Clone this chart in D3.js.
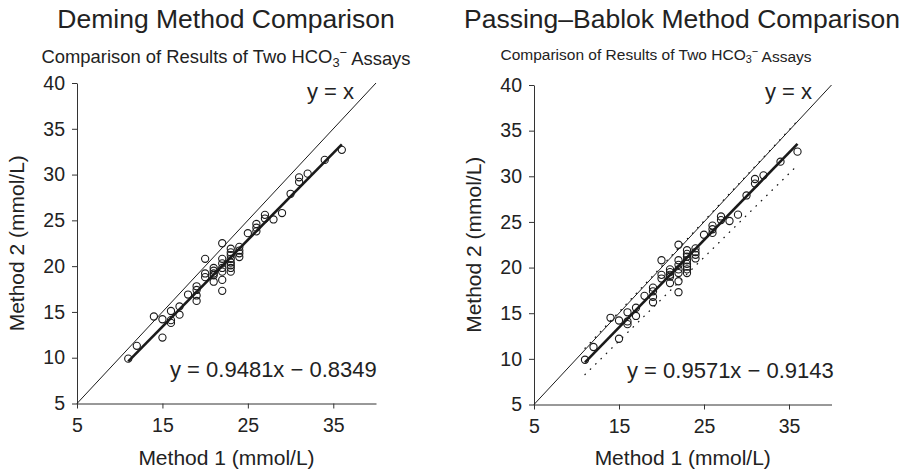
<!DOCTYPE html>
<html>
<head>
<meta charset="utf-8">
<script src="https://cdn.jsdelivr.net/npm/d3@7"></script>
<style>
  body { margin: 0; background: #fff; }
  svg text { font-family: "Liberation Sans", Arial, Helvetica, sans-serif; fill: #222; }
</style>
</head>
<body>
<svg id="chart" width="905" height="472"></svg>
<script>
"use strict";

// Method 1 / Method 2 results (mmol/L)
var method1 = [11, 12, 14, 15, 15, 16, 16, 16, 17, 17, 18, 19, 19, 19, 19,
  20, 20, 20, 21, 21, 21, 21, 21, 22, 22, 22, 22, 22, 22, 22,
  23, 23, 23, 23, 23, 23, 23, 23, 24, 24, 24, 24, 25, 26, 26, 26,
  27, 27, 28, 29, 30, 31, 31, 32, 34, 36];
var method2 = [9.9, 11.3, 14.5, 14.2, 12.2, 15.1, 14.1, 13.8, 15.6, 14.7, 16.9, 17.8, 17.4, 16.8, 16.2,
  20.8, 19.2, 18.8, 19.8, 19.5, 19.2, 18.3, 19.0, 22.5, 20.8, 20.3, 19.8, 19.4, 18.5, 17.3,
  21.9, 21.5, 21.2, 20.8, 20.4, 20.1, 19.8, 19.4, 22.1, 21.7, 21.4, 21.0, 23.6, 24.6, 24.2, 23.8,
  25.6, 25.2, 25.1, 25.8, 27.9, 29.7, 29.2, 30.1, 31.6, 32.7];

var xTicks = [5, 15, 25, 35];
var yTicks = [5, 10, 15, 20, 25, 30, 35, 40];
var axisDomain = [5, 40];

var titles = ["Deming Method Comparison", "Passing\u2013Bablok Method Comparison"];
var fits = [[0.9481, -0.8349], [0.9571, -0.9143]];   // slope, intercept
var pbLowerCI = [0.917, -1.8];
var pbUpperCI = [0.996, 0.2];

(function draw() {
  var svg = d3.select('#chart');
  var line = d3.line();

  var panels = [
    { x0: 77, x1: 376, y0: 403.5, y1: 83, titleX: 226, subX: 226, subSize: 18.4, subY: 63, yLabelX: 24, eqX: 170, eqY: 377, idX: 307 },
    { x0: 534, x1: 831.5, y0: 404.5, y1: 85, titleX: 682, subX: 656, subSize: 15.5, subY: 60, yLabelX: 481, eqX: 627, eqY: 378, idX: 765 }
  ];

  function fitLine(g, x, y, coef, width, dash) {
    var ext = d3.extent(method1);
    var path = g.append('path')
      .attr('d', line(ext.map(function(v) { return [x(v), y(coef[0] * v + coef[1])]; })))
      .attr('fill', 'none').attr('stroke', '#1a1a1a').attr('stroke-width', width);
    if (dash) path.attr('stroke-dasharray', dash).attr('stroke-linecap', 'round');
  }

  panels.map(function(p, i) {
    var x = d3.scaleLinear().domain(axisDomain).range([p.x0, p.x1]);
    var y = d3.scaleLinear().domain(axisDomain).range([p.y0, p.y1]);
    var g = svg.append('g');

    g.append('text').attr('x', p.titleX).attr('y', 28).attr('text-anchor', 'middle')
      .style('font-size', '26.5px').text(titles[i]);

    var sub = g.append('text').attr('x', p.subX).attr('y', p.subY).attr('text-anchor', 'middle')
      .style('font-size', p.subSize + 'px');
    sub.append('tspan').text('Comparison of Results of Two HCO');
    sub.append('tspan').attr('dy', '0.3em').style('font-size', '0.7em').text('3');
    sub.append('tspan').attr('dy', '-0.75em').style('font-size', '0.7em').text('\u2212');
    sub.append('tspan').attr('dy', '0.45em').text(' Assays');

    var xAxis = g.append('g').attr('transform', 'translate(0,' + p.y0 + ')')
      .call(d3.axisBottom(x).tickValues(xTicks).tickSizeInner(5).tickSizeOuter(0).tickPadding(10));
    var yAxis = g.append('g').attr('transform', 'translate(' + p.x0 + ',0)')
      .call(d3.axisLeft(y).tickValues(yTicks).tickSizeInner(5).tickSizeOuter(0).tickPadding(7));
    [xAxis, yAxis].map(function(a) {
      a.select('.domain').attr('stroke', '#333');
      a.selectAll('.tick line').attr('stroke', '#333');
      a.selectAll('.tick text').style('font-size', '19.5px').attr('fill', '#222')
        .style('font-family', '"Liberation Sans", Arial, sans-serif');
    });

    g.append('text').attr('x', (p.x0 + p.x1) / 2).attr('y', 465).attr('text-anchor', 'middle')
      .style('font-size', '21px').text('Method 1 (mmol/L)');
    g.append('text').attr('transform', 'translate(' + p.yLabelX + ',' + ((p.y0 + p.y1) / 2) + ') rotate(-90)')
      .attr('text-anchor', 'middle').style('font-size', '21px').text('Method 2 (mmol/L)');

    // identity line
    g.append('path')
      .attr('d', line(axisDomain.map(function(v) { return [x(v), y(v)]; })))
      .attr('fill', 'none').attr('stroke', '#1a1a1a').attr('stroke-width', 1);

    if (i === 1) {
      fitLine(g, x, y, pbUpperCI, 1.3, '0.5,7');
      fitLine(g, x, y, pbLowerCI, 1.3, '0.5,7');
    }

    g.selectAll('circle.pt').data(method1).enter().append('circle')
      .attr('class', 'pt')
      .attr('cx', function(d) { return x(d); })
      .attr('cy', function(d, j) { return y(method2[j]); })
      .attr('r', 3.6)
      .attr('fill', 'none').attr('stroke', '#1a1a1a').attr('stroke-width', 1.1);

    fitLine(g, x, y, fits[i], 2.6);

    g.append('text').attr('x', p.idX).attr('y', 99).style('font-size', '22px').text('y = x');
    g.append('text').attr('x', p.eqX).attr('y', p.eqY).style('font-size', '22px')
      .text('y = ' + fits[i][0] + 'x \u2212 ' + Math.abs(fits[i][1]));
  });
})();
</script>
</body>
</html>
